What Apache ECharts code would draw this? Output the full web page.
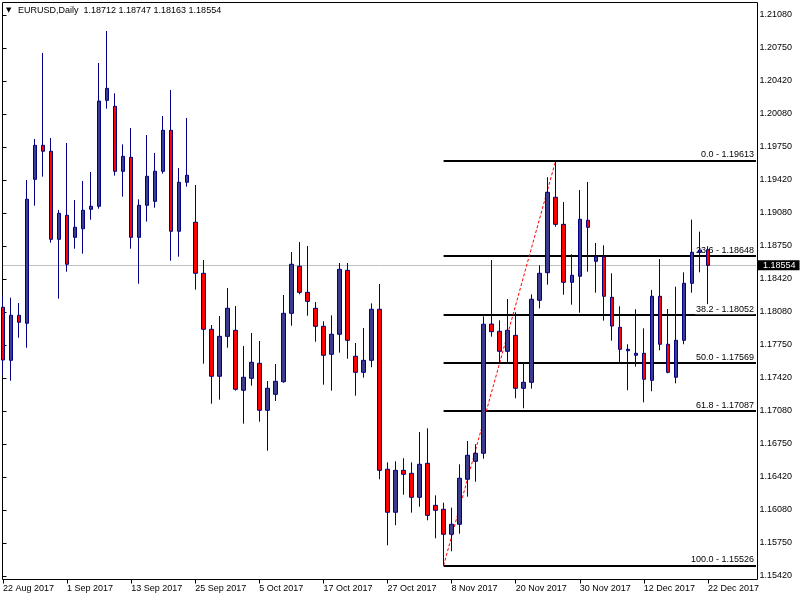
<!DOCTYPE html>
<html>
<head>
<meta charset="utf-8">
<script src="https://cdn.jsdelivr.net/npm/echarts@6/dist/echarts.min.js"></script>
<style>
html,body{margin:0;padding:0;background:#fff;}
#c{width:800px;height:600px;}
</style>
</head>
<body>
<div id="c"></div>
<script>
const symbol = 'EURUSD';
const period = 'Daily';

const dates = [
  '22 Aug 2017','23 Aug 2017','24 Aug 2017','25 Aug 2017','28 Aug 2017','29 Aug 2017','30 Aug 2017','31 Aug 2017',
  '1 Sep 2017','4 Sep 2017','5 Sep 2017','6 Sep 2017','7 Sep 2017','8 Sep 2017','11 Sep 2017','12 Sep 2017',
  '13 Sep 2017','14 Sep 2017','15 Sep 2017','18 Sep 2017','19 Sep 2017','20 Sep 2017','21 Sep 2017','22 Sep 2017',
  '25 Sep 2017','26 Sep 2017','27 Sep 2017','28 Sep 2017','29 Sep 2017',
  '2 Oct 2017','3 Oct 2017','4 Oct 2017','5 Oct 2017','6 Oct 2017','9 Oct 2017','10 Oct 2017','11 Oct 2017',
  '12 Oct 2017','13 Oct 2017','16 Oct 2017','17 Oct 2017','18 Oct 2017','19 Oct 2017','20 Oct 2017','23 Oct 2017',
  '24 Oct 2017','25 Oct 2017','26 Oct 2017','27 Oct 2017','30 Oct 2017','31 Oct 2017',
  '1 Nov 2017','2 Nov 2017','3 Nov 2017','6 Nov 2017','7 Nov 2017','8 Nov 2017','9 Nov 2017','10 Nov 2017',
  '13 Nov 2017','14 Nov 2017','15 Nov 2017','16 Nov 2017','17 Nov 2017','20 Nov 2017','21 Nov 2017','22 Nov 2017',
  '23 Nov 2017','24 Nov 2017','27 Nov 2017','28 Nov 2017','29 Nov 2017','30 Nov 2017',
  '1 Dec 2017','4 Dec 2017','5 Dec 2017','6 Dec 2017','7 Dec 2017','8 Dec 2017','11 Dec 2017','12 Dec 2017',
  '13 Dec 2017','14 Dec 2017','15 Dec 2017','18 Dec 2017','19 Dec 2017','20 Dec 2017','21 Dec 2017','22 Dec 2017'
];
// empty chart-shift slots to the right of the last bar
const futureSlots = ['25 Dec 2017','26 Dec 2017','27 Dec 2017','28 Dec 2017','29 Dec 2017','1 Jan 2018'];

const opens = [
  1.18131,1.17596,1.18050,1.17970,1.19422,1.19765,1.19705,1.18817,
  1.19059,1.18837,1.18924,1.19120,1.19150,1.20219,1.20159,1.19503,
  1.19644,1.18837,1.19160,1.19200,1.19503,1.19917,1.18898,1.19392,
  1.18989,1.18474,1.17909,1.17435,1.17838,
  1.17899,1.17294,1.17415,1.17566,1.17092,1.17253,1.17380,1.18070,
  1.18545,1.18282,1.18121,1.17939,1.17657,1.17859,1.18504,1.17637,
  1.17475,1.17596,1.18111,1.16497,1.16063,1.16486,
  1.16456,1.16214,1.16557,1.16133,1.16093,1.15841,1.15942,1.16396,
  1.16577,1.16658,1.17962,1.17889,1.17687,1.17848,1.17314,1.17374,
  1.18202,1.18480,1.19241,1.18968,1.18383,1.18444,
  1.19009,1.18595,1.18641,1.18232,1.17929,1.17693,1.17647,1.17667,
  1.17394,1.18242,1.17758,1.17425,1.17798,1.18373,1.18686,1.18712
];
const highs = [
  1.18245,1.18228,1.18174,1.19415,1.19829,1.20697,1.19839,1.19113,
  1.19789,1.19214,1.19405,1.19496,1.20596,1.20919,1.20290,1.19775,
  1.19940,1.19221,1.19869,1.19688,1.20061,1.20323,1.19536,1.20041,
  1.19365,1.18608,1.17952,1.18043,1.18326,
  1.18144,1.17741,1.17872,1.17791,1.17387,1.17559,1.18255,1.18689,
  1.18790,1.18749,1.18184,1.17990,1.18050,1.18578,1.18578,1.17771,
  1.17922,1.18171,1.18366,1.16567,1.16577,1.16608,
  1.16567,1.16873,1.16910,1.16234,1.16160,1.16109,1.16547,1.16782,
  1.16749,1.18040,1.18608,1.18000,1.18215,1.18081,1.17576,1.18262,
  1.18555,1.19443,1.19613,1.19193,1.18666,1.19314,
  1.19395,1.18780,1.18756,1.18474,1.18141,1.17758,1.18111,1.17919,
  1.18306,1.18618,1.18114,1.18339,1.18484,1.19015,1.18894,1.18747
];
const lows = [
  1.17445,1.17390,1.17824,1.17723,1.19156,1.19449,1.18783,1.18218,
  1.18490,1.18722,1.18672,1.19015,1.19126,1.20135,1.19459,1.19247,
  1.18722,1.18369,1.18995,1.19136,1.19479,1.18601,1.18641,1.19348,
  1.18309,1.17562,1.17158,1.17199,1.17723,
  1.17290,1.16957,1.17340,1.16977,1.16684,1.17186,1.17370,1.17945,
  1.18262,1.18046,1.17784,1.17350,1.17290,1.17673,1.17612,1.17239,
  1.17421,1.17526,1.16396,1.15730,1.15932,1.16240,
  1.16059,1.16119,1.15982,1.15800,1.15526,1.15669,1.15847,1.16220,
  1.16371,1.16604,1.17834,1.17566,1.17566,1.17213,1.17112,1.17310,
  1.18121,1.18359,1.18944,1.18258,1.18157,1.18076,
  1.18490,1.18278,1.17996,1.17794,1.17566,1.17294,1.17532,1.17172,
  1.17284,1.17697,1.17465,1.17364,1.17758,1.18278,1.18484,1.18163
];
const closes = [
  1.17599,1.18050,1.17980,1.19221,1.19765,1.19705,1.18817,1.19079,
  1.18565,1.18938,1.19110,1.19150,1.20212,1.20340,1.19503,1.19654,
  1.18837,1.19160,1.19453,1.19503,1.19917,1.18898,1.19392,1.19463,
  1.18474,1.17909,1.17435,1.17838,1.18121,
  1.17304,1.17425,1.17576,1.17092,1.17314,1.17384,1.18070,1.18565,
  1.18282,1.18191,1.17939,1.17647,1.17859,1.18514,1.17798,1.17475,
  1.17596,1.18111,1.16486,1.16063,1.16486,1.16446,
  1.16214,1.16547,1.16032,1.16083,1.15841,1.15942,1.16406,1.16638,
  1.16658,1.17960,1.17885,1.17687,1.17899,1.17314,1.17374,1.18212,
  1.18474,1.19291,1.18968,1.18383,1.18454,1.19019,
  1.18938,1.18641,1.18242,1.17942,1.17707,1.17707,1.17667,1.17405,
  1.18242,1.17758,1.17475,1.17798,1.18373,1.18686,1.18709,1.18554
];

const fibRatios = [0.0, 23.6, 38.2, 50.0, 61.8, 100.0];
const fibLevels = [1.19613, 1.18648, 1.18052, 1.17569, 1.17087, 1.15526];
const fibStart = '7 Nov 2017';
const trendFrom = ['7 Nov 2017', 1.15526];
const trendTo = ['27 Nov 2017', 1.19613];

const yTickLabels = ['1.15420','1.15750','1.16080','1.16420','1.16750','1.17080','1.17420','1.17750','1.18080',
  '1.18420','1.18750','1.19080','1.19420','1.19750','1.20080','1.20420','1.20750','1.21080'];
const priceRange = [1.153847, 1.212061];

const FONT = 'Liberation Sans';
const categories = dates.concat(futureSlots);
const candles = dates.map((d, i) => [opens[i], closes[i], lows[i], highs[i]]);
const last = dates.length - 1;
const lastSlot = categories[categories.length - 1];
const f5 = v => v.toFixed(5);

const chart = echarts.init(document.getElementById('c'), null, {renderer: 'canvas'});
const option = {
  animation: false,
  backgroundColor: '#ffffff',
  title: {
    text: '{t|\u25BC}' + symbol + ',' + period + '  ' + f5(opens[last]) + ' ' + f5(highs[last]) + ' ' + f5(lows[last]) + ' ' + f5(closes[last]),
    left: 6, top: 6, padding: 0,
    textStyle: {
      fontFamily: FONT, fontSize: 9, fontWeight: 'normal', color: '#000',
      rich: { t: { fontFamily: 'DejaVu Sans', fontSize: 7, color: '#000', width: 12 } }
    }
  },
  grid: [
    { left: 3, right: 44, top: 2.5, bottom: 20.5, show: false },
    { left: 2.5, right: 42.5, top: 15, bottom: 24, show: false },
    { left: 2.5, right: 42.5, top: 2.5, bottom: 20.5, show: true, borderColor: '#000', borderWidth: 1, backgroundColor: 'transparent' }
  ],
  xAxis: [
    {
      type: 'category', gridIndex: 0, data: categories, boundaryGap: false,
      axisLine: { show: false },
      axisTick: { show: true, interval: 7, length: 4, lineStyle: { color: '#000', width: 1 } },
      axisLabel: { interval: 7, align: 'left', margin: 5, fontFamily: FONT, fontSize: 9, color: '#000' },
      splitLine: { show: false }
    },
    { type: 'value', gridIndex: 1, show: false },
    { type: 'value', gridIndex: 2, show: false }
  ],
  yAxis: [
    { type: 'value', gridIndex: 0, min: priceRange[0], max: priceRange[1], show: false },
    {
      type: 'value', gridIndex: 1, position: 'right', min: 0, max: yTickLabels.length - 1, interval: 1,
      axisLine: { show: false },
      axisTick: { show: true, length: 4, lineStyle: { color: '#000', width: 1 } },
      axisLabel: { margin: 2, fontFamily: FONT, fontSize: 9, color: '#000',
        formatter: v => yTickLabels[Math.round(v)] || '' },
      splitLine: { show: false }
    },
    { type: 'value', gridIndex: 2, show: false }
  ],
  series: [{
    type: 'candlestick',
    xAxisIndex: 0, yAxisIndex: 0,
    data: candles,
    barWidth: 4,
    itemStyle: {
      color: '#3c3c8c', color0: '#ff0000',
      borderColor: '#000080', borderColor0: '#000080', borderColorDoji: '#000080',
      borderWidth: 1
    },
    markLine: {
      silent: true, symbol: ['none', 'none'], z: 1, animation: false,
      data: [
        [
          {
            coord: [categories[0], closes[last]],
            lineStyle: { color: '#c0c0c0', width: 1, type: 'solid' },
            label: {
              show: true, position: 'end', distance: 2,
              formatter: f5(closes[last]),
              fontFamily: FONT, fontSize: 9, color: '#fff',
              backgroundColor: '#000', padding: [1, 4, 0, 5]
            }
          },
          { coord: [lastSlot, closes[last]] }
        ],
        ...fibLevels.map((lv, i) => [
          {
            coord: [fibStart, lv],
            lineStyle: { color: '#000', width: 2, type: 'solid' },
            label: {
              show: true, position: 'insideEndTop', distance: [1, 1],
              formatter: fibRatios[i].toFixed(1) + ' - ' + f5(lv),
              fontFamily: FONT, fontSize: 9, color: '#000',
              backgroundColor: '#fff', padding: [0, 1, 0, 1]
            }
          },
          { coord: [lastSlot, lv] }
        ]),
        [
          { coord: trendFrom, lineStyle: { color: '#ff0000', width: 1, type: [3, 2] }, label: { show: false } },
          { coord: trendTo }
        ]
      ]
    }
  }]
};
chart.setOption(option);
</script>
</body>
</html>
